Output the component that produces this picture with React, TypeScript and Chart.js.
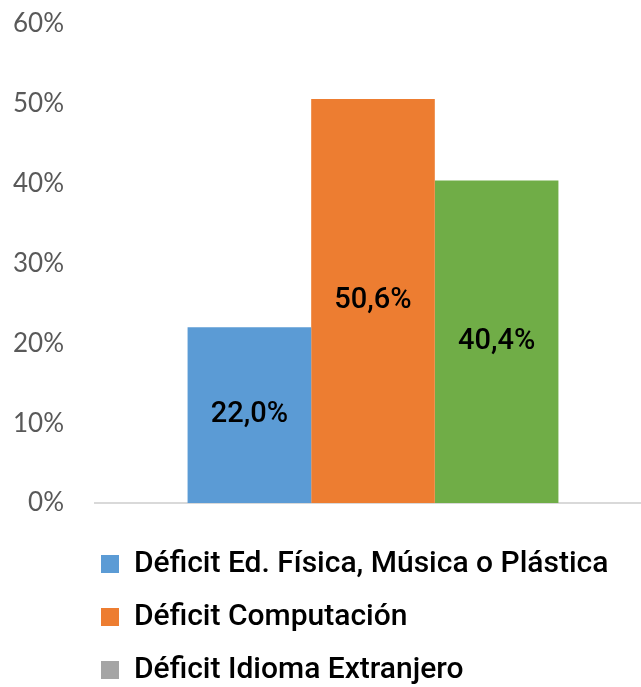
import React, { useEffect, useRef } from 'react';
import { Chart, registerables } from 'chart.js';

Chart.register(...registerables);

const categories = [''];
const seriesNames = [
  'Déficit Ed. Física, Música o Plástica',
  'Déficit Computación',
  'Déficit Idioma Extranjero',
];
const seriesValues = [22.0, 50.6, 40.4];
const barColors = ['#5B9BD5', '#ED7D31', '#70AD47'];
const legendColors = ['#5B9BD5', '#ED7D31', '#A5A5A5'];
const yMin = 0;
const yMax = 60;
const yStep = 10;

const CANVAS_W = 643;
const CANVAS_H = 687;

const barLabelPlugin = {
  id: 'barLabels',
  afterDatasetsDraw(chart: any) {
    const ctx = chart.ctx;
    ctx.save();
    ctx.font = '500 29px Roboto';
    ctx.fillStyle = '#000000';
    ctx.textAlign = 'center';
    ctx.textBaseline = 'middle';
    chart.data.datasets.forEach((ds: any, i: number) => {
      const meta = chart.getDatasetMeta(i);
      meta.data.forEach((bar: any, j: number) => {
        const v = ds.data[j] as number;
        const props = bar.getProps(['x', 'y', 'base'], true);
        const text = v.toFixed(1).replace('.', ',') + '%';
        ctx.fillText(text, props.x, (props.y + props.base) / 2);
      });
    });
    ctx.restore();
  },
};

const legendShiftPlugin = {
  id: 'legendShift',
  afterLayout(chart: any) {
    if (chart.legend) {
      chart.legend.left = 70;
    }
  },
};

export default function App() {
  const ref = useRef<HTMLCanvasElement | null>(null);

  useEffect(() => {
    if (!ref.current) return;
    const chart = new Chart(ref.current, {
      type: 'bar',
      data: {
        labels: categories,
        datasets: seriesNames.map((name, i) => ({
          label: name,
          data: [seriesValues[i]],
          backgroundColor: barColors[i],
          borderWidth: 0,
          barPercentage: 1,
          categoryPercentage: 0.667,
        })),
      },
      options: {
        responsive: false,
        animation: false,
        devicePixelRatio: 1,
        layout: { padding: { top: 0, left: 0, right: 0, bottom: 0 } },
        scales: {
          x: {
            grid: { display: false, drawTicks: false },
            border: { display: true, color: '#D9D9D9', width: 2 },
            ticks: { display: false },
            afterFit(scale: any) {
              scale.height = 23;
            },
          },
          y: {
            min: yMin,
            max: yMax,
            grid: { display: false, drawTicks: false },
            border: { display: false },
            ticks: {
              stepSize: yStep,
              padding: 31,
              color: '#595959',
              font: { family: 'Lato', size: 26 },
              callback: (v: any) => v + '%',
            },
            afterFit(scale: any) {
              scale.width = 87;
              scale.paddingTop = 16;
              scale.paddingBottom = 16;
            },
          },
        },
        plugins: {
          tooltip: { enabled: false },
          legend: {
            position: 'bottom',
            align: 'start',
            labels: {
              boxWidth: 18,
              boxHeight: 18,
              padding: 23,
              color: '#000000',
              font: { family: 'Roboto', size: 30, weight: '500' },
              generateLabels: () =>
                seriesNames.map((name, i) => ({
                  text: name,
                  fillStyle: legendColors[i],
                  strokeStyle: legendColors[i],
                  lineWidth: 0,
                  hidden: false,
                  datasetIndex: i,
                  fontColor: '#000000',
                })),
            },
          },
        },
      },
      plugins: [barLabelPlugin, legendShiftPlugin],
    });
    return () => chart.destroy();
  }, []);

  return (
    <div
      style={{
        position: 'fixed',
        left: 0,
        top: 0,
        width: 641,
        height: 687,
        overflow: 'hidden',
        background: '#ffffff',
      }}
    >
      <canvas
        ref={ref}
        width={CANVAS_W}
        height={CANVAS_H}
        style={{ position: 'absolute', left: 8, top: 8, width: CANVAS_W, height: CANVAS_H }}
      />
    </div>
  );
}
